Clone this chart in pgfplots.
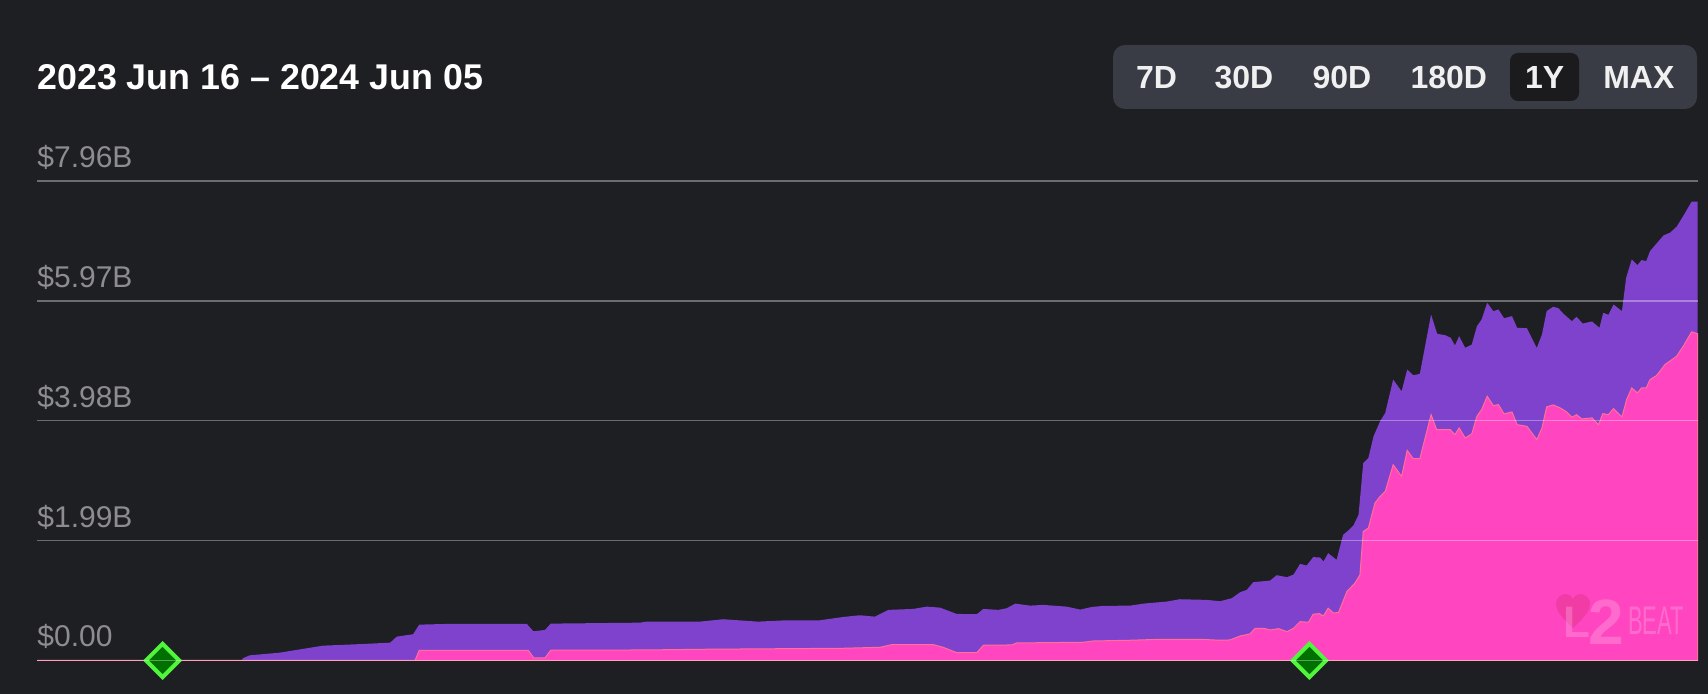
\documentclass[border=0pt]{standalone}
\usepackage{pgfplots}
\pgfplotsset{compat=1.18}
\usepackage{fontspec}
\setmainfont{Liberation Sans}

\definecolor{bgc}{RGB}{30,31,35}
\definecolor{purp}{RGB}{127,66,204}
\definecolor{pinkc}{RGB}{255,70,192}
\definecolor{pinkedge}{RGB}{255,112,150}
\definecolor{labgray}{RGB}{140,140,145}
\definecolor{btnbg}{RGB}{57,60,68}
\definecolor{btnsel}{RGB}{27,27,29}
\definecolor{dgreen}{RGB}{0,112,0}
\definecolor{lgreen}{RGB}{80,245,60}
\definecolor{heartc}{RGB}{238,58,160}

% days since 2023 Jun 16, value in $B
\pgfplotstableread{
d v
0 0
43.8 0
44.0 0.037
45.5 0.086
51.9 0.130
57.7 0.203
61.1 0.246
69.7 0.274
75.5 0.296
76.9 0.396
80.4 0.436
81.7 0.595
87.6 0.607
104.7 0.607
106.1 0.485
108.6 0.507
109.8 0.612
128.9 0.628
130.3 0.645
141.7 0.645
146.7 0.685
154.1 0.645
160.3 0.668
167.4 0.668
172.4 0.723
175.9 0.751
179.1 0.728
182.0 0.840
187.3 0.856
190.2 0.894
193.0 0.878
196.6 0.773
200.9 0.768
202.3 0.856
205.5 0.840
207.3 0.868
209.1 0.944
212.3 0.911
215.1 0.923
220.1 0.894
223.0 0.845
225.5 0.889
227.9 0.906
233.7 0.911
236.5 0.944
241.5 0.978
244.3 1.017
250.0 1.006
252.9 0.984
255.4 1.034
257.2 1.134
258.6 1.172
260.0 1.300
263.6 1.327
265.0 1.416
267.2 1.383
268.6 1.426
270.0 1.604
271.4 1.576
272.8 1.716
274.3 1.709
275.0 1.643
276.0 1.782
277.8 1.671
279.2 2.086
280.3 2.158
281.4 2.241
282.5 2.419
283.5 3.278
284.6 3.362
285.7 3.721
287.1 3.970
288.2 4.110
289.9 4.663
291.7 4.469
292.9 4.830
294.2 4.735
295.6 4.758
298.0 5.744
299.3 5.423
301.0 5.400
302.2 5.357
303.1 5.229
304.0 5.383
305.3 5.190
306.7 5.245
307.8 5.549
308.8 5.661
310.0 5.938
311.3 5.799
312.4 5.827
313.6 5.682
315.3 5.716
316.4 5.523
318.5 5.516
320.6 5.190
321.7 5.411
322.7 5.799
324.1 5.872
325.2 5.849
326.3 5.756
328.1 5.633
329.1 5.706
330.4 5.594
332.4 5.628
334.0 5.523
334.8 5.772
335.9 5.739
337.0 5.910
338.8 5.799
339.7 6.354
340.9 6.658
342.1 6.563
343.0 6.647
344.0 6.630
344.8 6.796
347.7 7.057
349.1 7.102
350.5 7.202
351.9 7.378
353.7 7.618
355.0 7.618
}\totaltvl

\pgfplotstableread{
d v
0 0
80.8 0
81.7 0.170
105.0 0.170
106.2 0.042
108.6 0.042
109.8 0.170
130.3 0.175
141.7 0.186
172.4 0.203
180.2 0.219
182.7 0.263
191.6 0.263
193.7 0.219
196.6 0.130
200.9 0.130
202.3 0.253
208.4 0.258
209.4 0.291
223.7 0.303
225.8 0.324
233.7 0.336
240.1 0.352
248.6 0.352
252.9 0.336
255.0 0.341
257.2 0.407
259.3 0.441
260.4 0.535
262.2 0.535
263.6 0.507
265.4 0.529
267.2 0.479
268.6 0.535
270.0 0.645
271.8 0.635
272.8 0.768
274.1 0.778
275.0 0.740
276.0 0.868
277.1 0.790
278.2 0.795
280.0 1.144
281.7 1.283
282.8 1.421
283.5 2.141
284.6 2.198
286.0 2.613
287.1 2.723
288.2 2.806
289.9 3.250
291.7 3.056
292.9 3.488
294.2 3.350
295.6 3.350
298.0 4.081
299.2 3.832
302.1 3.832
303.1 3.749
304.0 3.860
305.3 3.694
306.7 3.761
307.8 4.053
308.8 4.165
310.0 4.386
311.3 4.231
312.4 4.248
313.6 4.093
315.3 4.126
316.4 3.915
318.5 3.887
320.6 3.666
321.7 3.860
322.7 4.209
324.1 4.243
325.6 4.193
327.0 4.126
328.1 4.036
329.1 4.081
330.2 4.010
332.4 4.027
333.8 3.915
334.7 4.098
335.9 4.081
337.0 4.181
338.8 4.043
339.8 4.331
340.9 4.525
342.1 4.442
343.0 4.525
344.0 4.525
344.8 4.663
346.2 4.730
348.0 4.913
350.5 5.051
351.9 5.217
353.7 5.456
355.0 5.423
}\pinktvl

\begin{document}
\begin{tikzpicture}[x=0.5pt,y=0.5pt]
\fill[bgc] (0,0) rectangle (1708,694);

\begin{axis}[
    at={(18.5pt,16.75pt)}, anchor=south west,
    scale only axis,
    width=830.35pt, height=239.75pt,
    xmin=0, xmax=355, ymin=0, ymax=7.96,
    clip=false,
    set layers, axis on top,
    axis line style={draw=none},
    tick style={draw=none},
    xtick=\empty,
    ytick={0,1.99,3.98,5.97,7.96},
    yticklabels={\$0.00,\$1.99B,\$3.98B,\$5.97B,\$7.96B},
    yticklabel style={anchor=base west, inner sep=0pt, yshift=6.75pt,
        font=\fontsize{15}{15}\selectfont, text=labgray},
    ymajorgrids,
    major grid style={white, opacity=0.35, line width=0.75pt},
]
\addplot[fill=purp, draw=none] table[x=d, y=v] {\totaltvl} \closedcycle;
\addplot[fill=pinkc, draw=pinkedge, line width=0.5pt] table[x=d, y=v] {\pinktvl} \closedcycle;
\addplot[only marks, on layer=axis foreground, mark=square*, mark size=5.9pt,
    mark options={rotate=45, fill=dgreen, draw=lgreen, line width=2pt}]
    coordinates {(26.85,0) (272.0,0)};
\end{axis}

% watermark
\fill[heartc, opacity=0.8] (1573,66) .. controls (1560,78) and (1556,84) .. (1556,90)
  .. controls (1556,97) and (1562,100) .. (1566,100)
  .. controls (1569,100) and (1572,98) .. (1573,95)
  .. controls (1574,98) and (1577,100) .. (1580,100)
  .. controls (1584,100) and (1590,97) .. (1590,90)
  .. controls (1590,84) and (1586,78) .. (1573,66) -- cycle;
\node[anchor=base west, inner sep=0pt, text=white, opacity=0.2,
  font=\bfseries] at (1563,49)
  {\raisebox{3.5pt}{\fontsize{22}{22}\selectfont L}\kern-1pt\fontsize{32}{32}\selectfont 2};
\node[anchor=base west, inner sep=0pt, text=white, opacity=0.2, xscale=0.55,
  font=\fontsize{20}{20}\selectfont] at (1628,59) {BEAT};

% title
\node[anchor=base west, inner sep=0pt, text=white,
  font=\fontsize{17.9}{17.9}\selectfont\bfseries] at (37,604.7) {2023 Jun 16 – 2024 Jun 05};

% range buttons
\fill[btnbg, rounded corners=6pt] (1113,585) rectangle (1697,649);
\fill[btnsel, rounded corners=4pt] (1510,593) rectangle (1579,641);
\foreach \cx/\lab in {1156.6/7D, 1244/30D, 1341.9/90D, 1448.8/180D, 1544.6/1Y, 1638.8/MAX}
  \node[anchor=base, inner sep=0pt, text=white!94!black,
    font=\fontsize{16}{16}\selectfont\bfseries] at (\cx,605.7) {\lab};
\end{tikzpicture}
\end{document}
